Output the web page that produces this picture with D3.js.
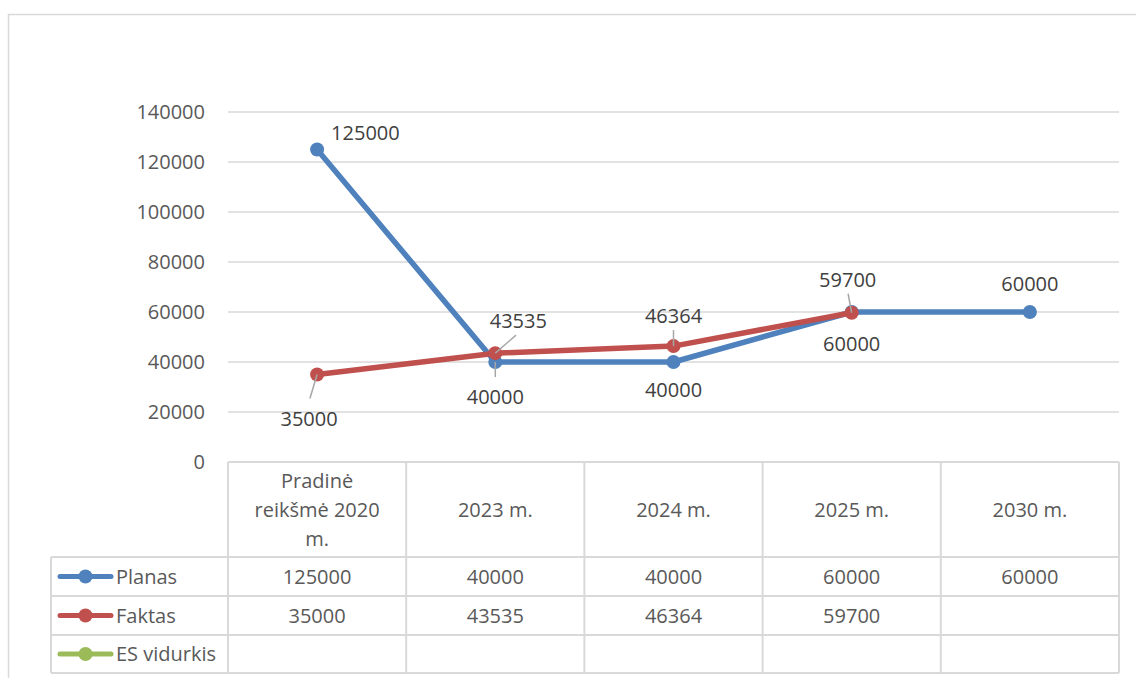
<!DOCTYPE html>
<html>
<head>
<meta charset="utf-8">
<script src="https://cdn.jsdelivr.net/npm/d3@7"></script>
<style>
  body { margin: 0; background: #fff; }
  svg text { font-family: "Open Sans", "Liberation Sans", sans-serif; fill: #595959; }
  svg text.data-label { fill: #404040; }
</style>
</head>
<body>
<svg id="chart" width="1136" height="678"></svg>
<script>
// data
var categories = ["Pradinė reikšmė 2020 m.", "2023 m.", "2024 m.", "2025 m.", "2030 m."];
var categoryLines = [["Pradinė", "reikšmė 2020", "m."], ["2023 m."], ["2024 m."], ["2025 m."], ["2030 m."]];
var planas = [125000, 40000, 40000, 60000, 60000];
var faktas = [35000, 43535, 46364, 59700, null];
var esVidurkis = [null, null, null, null, null];
var yTicks = [0, 20000, 40000, 60000, 80000, 100000, 120000, 140000];

var seriesNames = ["Planas", "Faktas", "ES vidurkis"];
var seriesValues = [planas, faktas, esVidurkis];
var colors = ["#4f81bd", "#c0504d", "#9bbb59"];

// label placement (offset of text from point, leader line or not)
var labelPos = [
  [{dx: 14, dy: -17, a: "start"}, {dx: 0, dy: 35, a: "middle", lead: true}, {dx: 0, dy: 28, a: "middle"}, {dx: 0, dy: 32, a: "middle"}, {dx: 0, dy: -28, a: "middle"}],
  [{dx: -8, dy: 44, a: "middle", lead: true}, {dx: 23, dy: -32, a: "middle", lead: true}, {dx: 0, dy: -30, a: "middle", lead: true}, {dx: -4, dy: -33, a: "middle", lead: true}, null]
];

var plotLeft = 228, plotRight = 1119, plotTop = 112, plotBottom = 462;
var svg = d3.select("#chart");

// outer frame
svg.append("rect")
  .attr("x", 8.5).attr("y", 14.5)
  .attr("width", 1140).attr("height", 700)
  .attr("fill", "none")
  .attr("stroke", "#d9d9d9")
  .attr("stroke-width", 1.5);

var x = d3.scaleBand().domain(categories).range([plotLeft, plotRight]).padding(0);
var y = d3.scaleLinear().domain([0, 140000]).range([plotBottom, plotTop]);
var cx = function(i){ return x(categories[i]) + x.bandwidth()/2; };

// gridlines
svg.append("g").selectAll("line")
  .data(yTicks)
  .enter().append("line")
  .attr("x1", plotLeft).attr("x2", plotRight)
  .attr("y1", function(d){ return y(d); })
  .attr("y2", function(d){ return y(d); })
  .attr("stroke", "#d9d9d9")
  .attr("stroke-width", 1.5);

// y labels
svg.append("g").selectAll("text")
  .data(yTicks)
  .enter().append("text")
  .attr("x", 205)
  .attr("y", function(d){ return y(d); })
  .attr("dy", "0.36em")
  .attr("text-anchor", "end")
  .style("font-size", "20px")
  .text(function(d){ return d; });

// lines
var line = d3.line()
  .defined(function(d){ return d != null; })
  .x(function(d, i){ return cx(i); })
  .y(function(d){ return y(d); });

seriesValues.forEach(function(vals, s){
  var g = svg.append("g").attr("class", "series-" + s);
  g.append("path")
    .datum(vals)
    .attr("d", line)
    .attr("fill", "none")
    .attr("stroke", colors[s])
    .attr("stroke-width", 5.5)
    .attr("stroke-linejoin", "round")
    .attr("stroke-linecap", "round");
  g.selectAll("circle")
    .data(vals.map(function(v, i){ return {v: v, i: i}; }).filter(function(d){ return d.v != null; }))
    .enter().append("circle")
    .attr("cx", function(d){ return cx(d.i); })
    .attr("cy", function(d){ return y(d.v); })
    .attr("r", 7)
    .attr("fill", colors[s]);
});

// data labels
seriesValues.forEach(function(vals, s){
  if (!labelPos[s]) return;
  vals.forEach(function(v, i){
    var p = labelPos[s][i];
    if (v == null || !p) return;
    var px = cx(i), py = y(v);
    if (p.lead) {
      var ly = p.dy > 0 ? py + p.dy - 20 : py + p.dy + 14;
      svg.append("line")
        .attr("x1", px + p.dx * 0.9).attr("y1", ly)
        .attr("x2", px).attr("y2", py)
        .attr("stroke", "#a6a6a6")
        .attr("stroke-width", 1.5);
    }
    svg.append("text")
      .attr("class", "data-label")
      .attr("x", px + p.dx)
      .attr("y", py + p.dy)
      .attr("dy", "0.36em")
      .attr("text-anchor", p.a)
      .style("font-size", "20px")
      .text(v);
  });
});

// data table
var rowTops = [557, 596, 635, 673];
var tbl = svg.append("g").attr("class", "data-table");
var border = "#d9d9d9";

// horizontal lines
tbl.append("line").attr("x1", plotLeft).attr("x2", plotRight).attr("y1", plotBottom).attr("y2", plotBottom)
  .attr("stroke", border).attr("stroke-width", 2);
rowTops.forEach(function(ry){
  tbl.append("line").attr("x1", 51).attr("x2", plotRight).attr("y1", ry).attr("y2", ry)
    .attr("stroke", border).attr("stroke-width", 2);
});
// vertical lines
tbl.append("line").attr("x1", 51).attr("x2", 51).attr("y1", rowTops[0]).attr("y2", rowTops[3])
  .attr("stroke", border).attr("stroke-width", 2);
categories.concat(["end"]).forEach(function(c, i){
  var vx = i < categories.length ? x(c) : plotRight;
  tbl.append("line").attr("x1", vx).attr("x2", vx).attr("y1", plotBottom).attr("y2", rowTops[3])
    .attr("stroke", border).attr("stroke-width", 2);
});

// header labels
categoryLines.forEach(function(lines, i){
  var mid = (plotBottom + rowTops[0]) / 2;
  var lh = 29;
  lines.forEach(function(t, k){
    tbl.append("text")
      .attr("x", cx(i))
      .attr("y", mid + (k - (lines.length - 1) / 2) * lh)
      .attr("dy", "0.36em")
      .attr("text-anchor", "middle")
      .style("font-size", "20px")
      .text(t);
  });
});

// series rows
seriesNames.forEach(function(name, s){
  var my = (rowTops[s] + rowTops[s + 1]) / 2;
  tbl.append("line").attr("x1", 60).attr("x2", 111).attr("y1", my).attr("y2", my)
    .attr("stroke", colors[s]).attr("stroke-width", 5).attr("stroke-linecap", "round");
  tbl.append("circle").attr("cx", 85.5).attr("cy", my).attr("r", 7).attr("fill", colors[s]);
  tbl.append("text")
    .attr("x", 116).attr("y", my).attr("dy", "0.36em")
    .style("font-size", "20px")
    .text(name);
  seriesValues[s].forEach(function(v, i){
    if (v == null) return;
    tbl.append("text")
      .attr("x", cx(i)).attr("y", my).attr("dy", "0.36em")
      .attr("text-anchor", "middle")
      .style("font-size", "20px")
      .text(v);
  });
});
</script>
</body>
</html>
